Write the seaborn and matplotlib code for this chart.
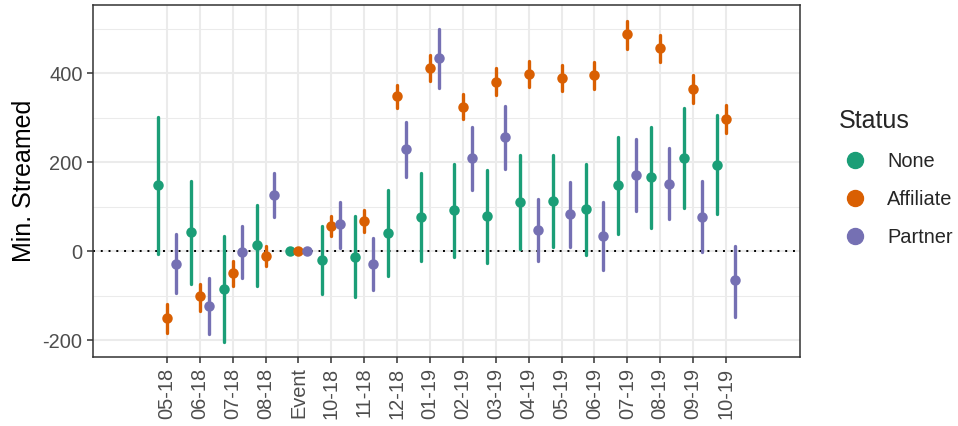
import numpy as np
import pandas as pd
import matplotlib
matplotlib.use("Agg")
import matplotlib.pyplot as plt
from matplotlib.lines import Line2D
import seaborn as sns

categories = ["05-18", "06-18", "07-18", "08-18", "Event", "10-18", "11-18", "12-18",
              "01-19", "02-19", "03-19", "04-19", "05-19", "06-19", "07-19", "08-19",
              "09-19", "10-19"]
statuses = ["None", "Affiliate", "Partner"]

none_est = [148, 44, -85, 13, 0, -20, -13, 41, 77, 92, 78, 110, 113, 94, 148, 166, 210, 194]
none_lo = [-7, -73, -204, -79, 0, -97, -103, -57, -22, -13, -27, 5, 9, -9, 38, 51, 98, 83]
none_hi = [302, 158, 35, 104, 0, 56, 78, 137, 175, 196, 183, 215, 217, 195, 256, 280, 322, 307]

aff_est = [-150, -102, -49, -11, 0, 56, 68, 348, 411, 325, 381, 399, 390, 395, 487, 456, 365, 297]
aff_lo = [-184, -134, -79, -34, 0, 35, 43, 321, 382, 296, 352, 369, 360, 364, 455, 425, 333, 265]
aff_hi = [-120, -73, -22, 11, 0, 78, 93, 374, 440, 353, 411, 428, 419, 426, 517, 486, 395, 329]

par_est = [-28, -124, -2, 127, 0, 60, -28, 229, 433, 209, 256, 48, 83, 35, 170, 151, 76, -66]
par_lo = [-94, -186, -61, 76, 0, 8, -88, 166, 366, 138, 184, -23, 9, -42, 90, 72, -2, -147]
par_hi = [38, -61, 56, 176, 0, 110, 30, 291, 500, 279, 327, 118, 156, 110, 252, 232, 157, 12]

series = {
    "None": (none_lo, none_est, none_hi),
    "Affiliate": (aff_lo, aff_est, aff_hi),
    "Partner": (par_lo, par_est, par_hi),
}
rows = []
for st, (lo, est, hi) in series.items():
    for i, c in enumerate(categories):
        for v in (lo[i], est[i], hi[i]):
            rows.append({"month": c, "status": st, "value": v})
df = pd.DataFrame(rows)

palette = {"None": "#1B9E77", "Affiliate": "#D95F02", "Partner": "#7570B3"}

sns.set_theme(style="white")
plt.rcParams["font.family"] = ["Liberation Sans", "DejaVu Sans"]

fig = plt.figure(figsize=(9.58, 4.26), dpi=100)
ax = fig.add_axes([0.097, 0.162, 0.738, 0.826])

ax.axhline(0, color="black", linestyle=(0, (1, 3)), linewidth=1.4, zorder=1)

sns.pointplot(data=df, x="month", y="value", hue="status", order=categories,
              hue_order=statuses, estimator="median", errorbar=("pi", 100),
              dodge=0.54, linestyle="none", palette=palette, markers="o",
              markersize=5.5, err_kws={"linewidth": 2.4}, ax=ax, legend=False)

ax.set_xlim(-2.25, len(categories) + 1.25)
ax.set_ylim(-238, 553)
ax.set_yticks([-200, 0, 200, 400])
ax.set_yticklabels(["-200", "0", "200", "400"])
ax.set_yticks([-100, 100, 300, 500], minor=True)

ax.set_axisbelow(True)
ax.grid(True, which="major", color="#EBEBEB", linewidth=1.5)
ax.grid(True, which="minor", axis="y", color="#EBEBEB", linewidth=0.75)
for sp in ax.spines.values():
    sp.set_color("#333333")
    sp.set_linewidth(1.1)

ax.tick_params(axis="both", which="major", length=4.5, width=1.1, color="#333333",
               labelsize=14.4, labelcolor="#4D4D4D", bottom=True, left=True, pad=3)
ax.tick_params(axis="both", which="minor", length=0)
plt.setp(ax.get_xticklabels(), rotation=90)

ax.set_xlabel("")
ax.set_ylabel("Min. Streamed", fontsize=18, color="black", labelpad=5)

handles = [Line2D([], [], linestyle="none", marker="o", markersize=11.5,
                  markerfacecolor=palette[s], markeredgecolor=palette[s]) for s in statuses]
leg = fig.legend(handles, statuses, title="Status", loc="upper left",
                 bbox_to_anchor=(839 / 958, 1 - 109 / 426), frameon=False, fontsize=14.4,
                 title_fontsize=18, labelspacing=0.95, handletextpad=0.8,
                 handlelength=1.6, alignment="left", borderaxespad=0, borderpad=0)

fig.savefig("out.png", dpi=100)
